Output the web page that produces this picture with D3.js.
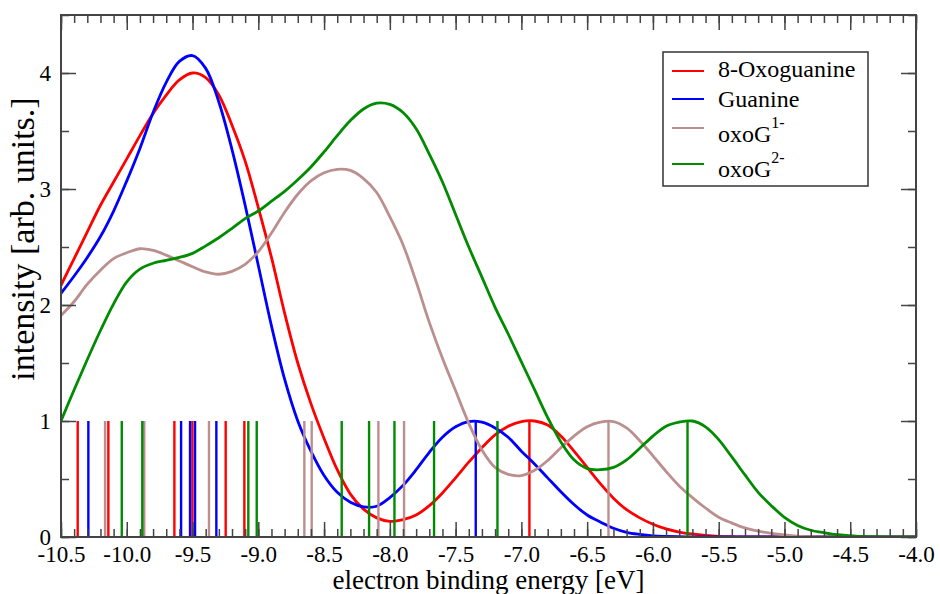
<!DOCTYPE html>
<html>
<head>
<meta charset="utf-8">
<script src="https://cdn.jsdelivr.net/npm/d3@7"></script>
<style>
  body { margin: 0; background: #fff; }
  svg { display: block; font-family: "Liberation Serif", "Times New Roman", serif; }
  .tick line { stroke: #444; stroke-width: 1.5; }
</style>
</head>
<body>
<svg width="940" height="594"></svg>
<script>

// energy grid the spectra were read on [eV]
var energy = [-10.5,-10.4,-10.3,-10.2,-10.1,-10.0,
  -9.9,-9.8,-9.7,-9.6,-9.5,-9.4,-9.3,-9.2,-9.1,-9.0,
  -8.9,-8.8,-8.7,-8.6,-8.5,-8.4,-8.3,-8.2,-8.1,-8.0,
  -7.9,-7.8,-7.7,-7.6,-7.5,-7.4,-7.3,-7.2,-7.1,-7.0,
  -6.9,-6.8,-6.7,-6.6,-6.5,-6.4,-6.3,-6.2,-6.1,-6.0,
  -5.9,-5.8,-5.7,-5.6,-5.5,-5.4,-5.3,-5.2,-5.1,-5.0,
  -4.9,-4.8,-4.7,-4.6,-4.5,-4.4,-4.3,-4.2,-4.1,-4.0];

var oxoguanine = [2.17,2.40,2.63,2.86,3.06,3.26,
  3.46,3.65,3.81,3.94,4.00,3.96,3.81,3.55,3.24,2.84,
  2.41,1.93,1.50,1.15,0.85,0.58,0.37,0.24,0.165,0.135,
  0.15,0.19,0.27,0.38,0.51,0.645,0.77,0.88,0.955,0.995,
  1.00,0.965,0.87,0.74,0.60,0.46,0.335,0.235,0.165,0.11,
  0.07,0.043,0.026,0.014,0.006,0.003,0,0,0,0,
  0,0,0,0,0,0,0,0,0,0];

var guanine = [2.10,2.25,2.41,2.59,2.81,3.07,
  3.35,3.66,3.92,4.10,4.15,4.04,3.75,3.34,2.86,2.34,
  1.82,1.36,1.00,0.74,0.53,0.385,0.30,0.26,0.265,0.34,
  0.445,0.58,0.73,0.86,0.95,0.995,0.99,0.94,0.86,0.74,
  0.63,0.51,0.39,0.28,0.19,0.13,0.075,0.04,0.022,0.01,
  0.005,0.002,0,0,0,0,0,0,0,0,
  0,0,0,0,0,0,0,0,0,0];

var oxoG1 = [1.91,2.03,2.18,2.30,2.40,2.45,
  2.485,2.47,2.43,2.38,2.33,2.285,2.265,2.29,2.35,2.46,
  2.62,2.80,2.955,3.07,3.14,3.17,3.16,3.09,2.97,2.76,
  2.52,2.20,1.85,1.54,1.26,0.98,0.75,0.60,0.54,0.53,
  0.575,0.66,0.77,0.87,0.95,0.99,0.995,0.94,0.83,0.70,
  0.565,0.44,0.34,0.25,0.17,0.12,0.078,0.05,0.032,0.018,
  0.008,0.003,0,0,0,0,0,0,0,0];

var oxoG2 = [1.00,1.27,1.53,1.78,2.01,2.20,
  2.31,2.36,2.385,2.41,2.445,2.51,2.58,2.66,2.745,2.81,
  2.895,2.98,3.08,3.19,3.32,3.46,3.59,3.69,3.74,3.73,
  3.66,3.52,3.30,3.06,2.78,2.50,2.24,1.98,1.75,1.51,
  1.27,1.03,0.82,0.665,0.59,0.58,0.60,0.665,0.765,0.87,
  0.955,0.99,1.00,0.95,0.84,0.69,0.535,0.385,0.27,0.17,
  0.10,0.058,0.037,0.02,0.012,0.005,0.002,0,0,0];

// stick spectra (unit height lines at the binding energies)
var sticksOxoguanine = [-10.373,-10.14,-9.638,-9.501,-9.248,-9.106,-6.939];
var sticksGuanine = [-10.292,-9.587,-9.519,-9.481,-9.319,-7.347];
var sticksOxoG1 = [-10.165,-9.867,-9.375,-8.650,-8.594,-8.087,-7.892,-6.338];
var sticksOxoG2 = [-10.038,-9.882,-9.076,-9.012,-8.366,-8.158,-7.965,-7.664,-7.182,-5.737];

var xTickValues = [-10.5,-10.0,-9.5,-9.0,-8.5,-8.0,-7.5,-7.0,-6.5,-6.0,-5.5,-5.0,-4.5,-4.0];
var xTickLabels = ["-10.5","-10.0","-9.5","-9.0","-8.5","-8.0","-7.5","-7.0","-6.5","-6.0","-5.5","-5.0","-4.5","-4.0"];
var yTickValues = [0,1,2,3,4];
var yTickLabels = ["0","1","2","3","4"];

var series = [
  {name: "8-Oxoguanine", sup: "", color: "#ff0000", values: oxoguanine, sticks: sticksOxoguanine},
  {name: "Guanine", sup: "", color: "#0000ff", values: guanine, sticks: sticksGuanine},
  {name: "oxoG", sup: "1-", color: "#bc8f8f", values: oxoG1, sticks: sticksOxoG1},
  {name: "oxoG", sup: "2-", color: "#008b00", values: oxoG2, sticks: sticksOxoG2}
];

var serif = "'Liberation Serif', 'Times New Roman', serif";

var svg = d3.select("svg");
var margin = {top: 15, right: 24, bottom: 57, left: 61},
    width = 940 - margin.left - margin.right,
    height = 594 - margin.top - margin.bottom,
    g = svg.append("g").attr("transform", "translate(" + margin.left + "," + margin.top + ")");

var x = d3.scaleLinear().domain([-10.5, -4.0]).range([0, width]),
    y = d3.scaleLinear().domain([0, 4.5]).range([height, 0]);

var minorX = d3.range(-105, -39).map(function(d) { return d / 10; }),
    minorY = d3.range(0, 10).map(function(d) { return d / 2; });

g.append("clipPath").attr("id", "clip")
  .append("rect").attr("width", width).attr("height", height);

var line = d3.line()
  .curve(d3.curveCatmullRom)
  .x(function(d, i) { return x(energy[i]); })
  .y(function(d) { return y(d); });

var plot = g.append("g").attr("clip-path", "url(#clip)");

series.forEach(function(s) {
  plot.append("path")
    .attr("d", line(s.values))
    .attr("fill", "none")
    .attr("stroke", s.color)
    .attr("stroke-width", 2.8);

  plot.selectAll(null)
    .data(s.sticks)
    .enter().append("line")
    .attr("x1", function(d) { return x(d); })
    .attr("x2", function(d) { return x(d); })
    .attr("y1", y(0))
    .attr("y2", y(1))
    .attr("stroke", s.color)
    .attr("stroke-width", 2.4);
});

// axes: ticks point inwards on all four sides
function noLabel() { return ""; }

var axes = g.append("g");

axes.append("g").attr("transform", "translate(0," + height + ")")
  .call(d3.axisBottom(x).tickValues(minorX).tickSize(-8).tickFormat(noLabel));
axes.append("g").attr("transform", "translate(0," + height + ")")
  .call(d3.axisBottom(x).tickValues(xTickValues).tickSize(-15).tickPadding(9)
    .tickFormat(function(d, i) { return xTickLabels[i]; }));
axes.append("g")
  .call(d3.axisTop(x).tickValues(minorX).tickSize(-8).tickFormat(noLabel));
axes.append("g")
  .call(d3.axisTop(x).tickValues(xTickValues).tickSize(-15).tickFormat(noLabel));

axes.append("g")
  .call(d3.axisLeft(y).tickValues(minorY).tickSize(-8).tickFormat(noLabel));
axes.append("g")
  .call(d3.axisLeft(y).tickValues(yTickValues).tickSize(-15).tickPadding(10)
    .tickFormat(function(d, i) { return yTickLabels[i]; }));
axes.append("g").attr("transform", "translate(" + width + ",0)")
  .call(d3.axisRight(y).tickValues(minorY).tickSize(-8).tickFormat(noLabel));
axes.append("g").attr("transform", "translate(" + width + ",0)")
  .call(d3.axisRight(y).tickValues(yTickValues).tickSize(-15).tickFormat(noLabel));

axes.selectAll(".domain").remove();
axes.selectAll("g").attr("font-family", null).attr("font-size", null);
axes.selectAll(".tick text")
  .style("font-family", serif)
  .style("font-size", "23px")
  .attr("fill", "#000");

g.append("rect")
  .attr("width", width)
  .attr("height", height)
  .attr("fill", "none")
  .attr("stroke", "#444")
  .attr("stroke-width", 2);

svg.append("text")
  .attr("x", margin.left + width / 2)
  .attr("y", 589)
  .attr("text-anchor", "middle")
  .style("font-size", "27px")
  .text("electron binding energy [eV]");

svg.append("text")
  .attr("transform", "translate(34," + 239 + ") rotate(-90)")
  .attr("text-anchor", "middle")
  .style("font-size", "34px")
  .text("intensity [arb. units.]");

// legend
var legend = svg.append("g").attr("transform", "translate(663,52)");

legend.append("rect")
  .attr("width", 205)
  .attr("height", 134)
  .attr("fill", "#fff")
  .attr("stroke", "#333")
  .attr("stroke-width", 1.5);

var lineY = [19, 47, 76, 112],
    textY = [25, 55, 90, 125];

series.forEach(function(s, i) {
  legend.append("line")
    .attr("x1", 9).attr("x2", 41)
    .attr("y1", lineY[i]).attr("y2", lineY[i])
    .attr("stroke", s.color)
    .attr("stroke-width", 2);
  var t = legend.append("text")
    .attr("x", 55)
    .attr("y", textY[i])
    .style("font-size", "24px")
    .text(s.name);
  if (s.sup) {
    t.append("tspan")
      .attr("dy", -14)
      .style("font-size", "16px")
      .text(s.sup);
  }
});

</script>
</body>
</html>
